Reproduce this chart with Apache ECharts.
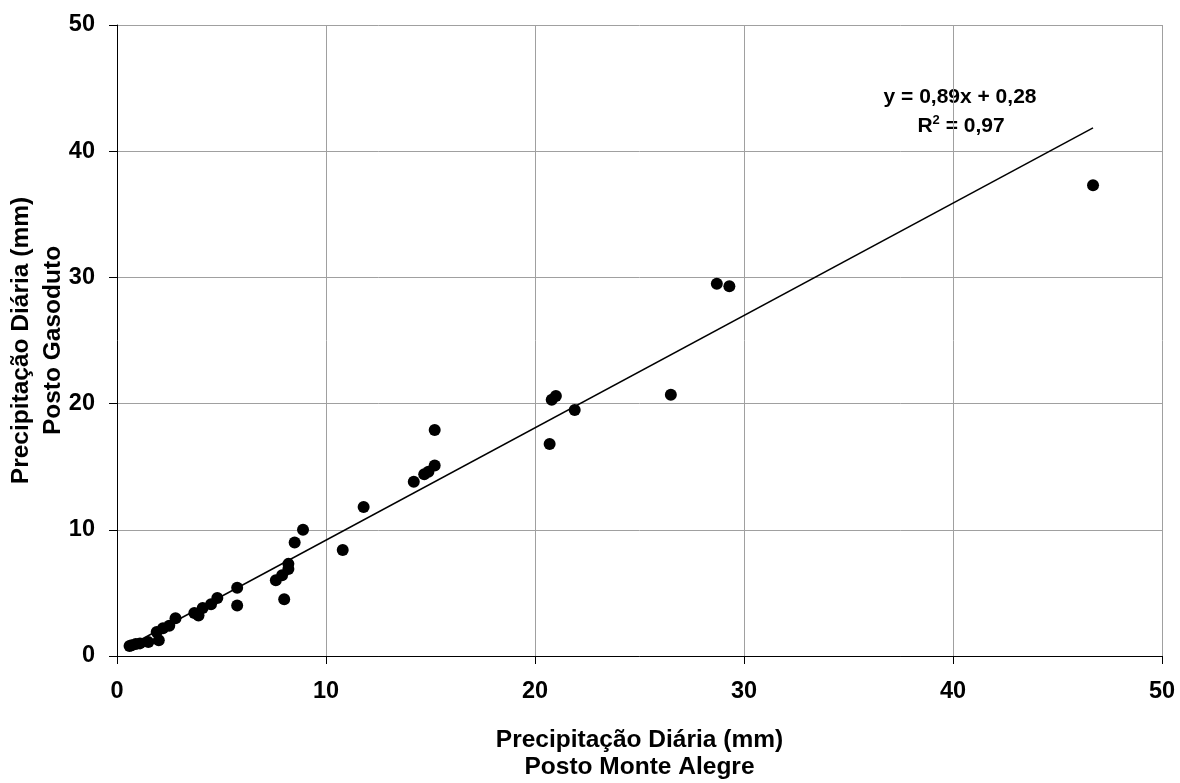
<!DOCTYPE html>
<html>
<head>
<meta charset="utf-8">
<script src="https://cdn.jsdelivr.net/npm/echarts@6/dist/echarts.min.js"></script>
<style>html,body{margin:0;padding:0;background:#fff}#c{width:1180px;height:783px}</style>
</head>
<body>
<div id="c"></div>
<script>
const xValues = [0.6,0.7,0.9,1.1,1.5,2.0,1.9,2.2,2.5,2.8,3.7,3.9,4.1,4.5,4.8,5.75,5.75,7.6,7.9,8.0,8.2,8.2,8.5,8.9,10.8,11.8,14.2,14.7,14.9,15.2,15.2,20.7,20.8,21.0,21.9,26.5,28.7,29.3,46.7];
const yValues = [0.8,0.85,0.95,1.0,1.1,1.25,1.9,2.2,2.4,3.0,3.4,3.2,3.8,4.1,4.6,5.4,4.0,6.0,6.4,4.5,6.9,7.3,9.0,10.0,8.4,11.8,13.8,14.4,14.6,15.1,17.9,16.8,20.3,20.6,19.5,20.7,29.5,29.3,37.3];
const slope = 0.89, intercept = 0.28;
const eqText = 'y = 0,89x + 0,28';
const r2Text = '0,97';
const xTitle = 'Precipitação Diária (mm)\nPosto Monte Alegre';
const yTitle = 'Precipitação Diária (mm)\nPosto Gasoduto';

const pts = xValues.map((x,i)=>[x,yValues[i]]);
const xmin = Math.min(...xValues), xmax = Math.max(...xValues);
const trend = [[xmin, slope*xmin+intercept],[xmax, slope*xmax+intercept]];
const F = 'Liberation Sans, Arial, sans-serif';
const chart = echarts.init(document.getElementById('c'));
chart.setOption({
  animation:false,
  grid:{left:117,right:18,top:25,bottom:127,outerBoundsMode:'none',containLabel:false},
  xAxis:{type:'value',min:0,max:50,interval:10,
    name:xTitle,nameLocation:'middle',nameGap:71,nameMoveOverlap:false,
    nameTextStyle:{fontFamily:F,fontWeight:'bold',fontSize:24.5,color:'#000',lineHeight:27},
    axisLine:{lineStyle:{color:'#000',width:1}},
    axisTick:{show:true,length:8,lineStyle:{color:'#000'}},
    axisLabel:{fontFamily:F,fontWeight:'bold',fontSize:23.5,color:'#000',margin:24},
    splitLine:{show:true,lineStyle:{color:'#a0a0a0',width:1}}},
  yAxis:{type:'value',min:0,max:50,interval:10,
    name:yTitle,nameLocation:'middle',nameGap:48,nameRotate:90,nameMoveOverlap:false,
    nameTextStyle:{fontFamily:F,fontWeight:'bold',fontSize:24.5,color:'#000',lineHeight:32},
    axisLine:{show:true,lineStyle:{color:'#000',width:1}},
    axisTick:{show:true,length:8,lineStyle:{color:'#000'}},
    axisLabel:{fontFamily:F,fontWeight:'bold',fontSize:23.5,color:'#000',margin:22},
    splitLine:{show:true,lineStyle:{color:'#a0a0a0',width:1}}},
  series:[
    {type:'scatter',data:pts,symbol:'circle',symbolSize:12,itemStyle:{color:'#000',opacity:1},z:3},
    {type:'line',data:trend,symbol:'none',lineStyle:{color:'#000',width:1.5},z:2}
  ],
  graphic:[
    {type:'text',x:960,y:97,style:{text:eqText,font:'bold 21px '+F,fill:'#000',align:'center',verticalAlign:'middle'}},
    {type:'text',x:961,y:126,style:{text:'{a|R}{s|2}{a| = '+r2Text+'}',align:'center',verticalAlign:'middle',rich:{a:{font:'bold 21px '+F,fill:'#000',height:24},s:{font:'bold 13px '+F,fill:'#000',height:24,padding:[0,0,12,0]}}}}
  ]
});
</script>
</body>
</html>
